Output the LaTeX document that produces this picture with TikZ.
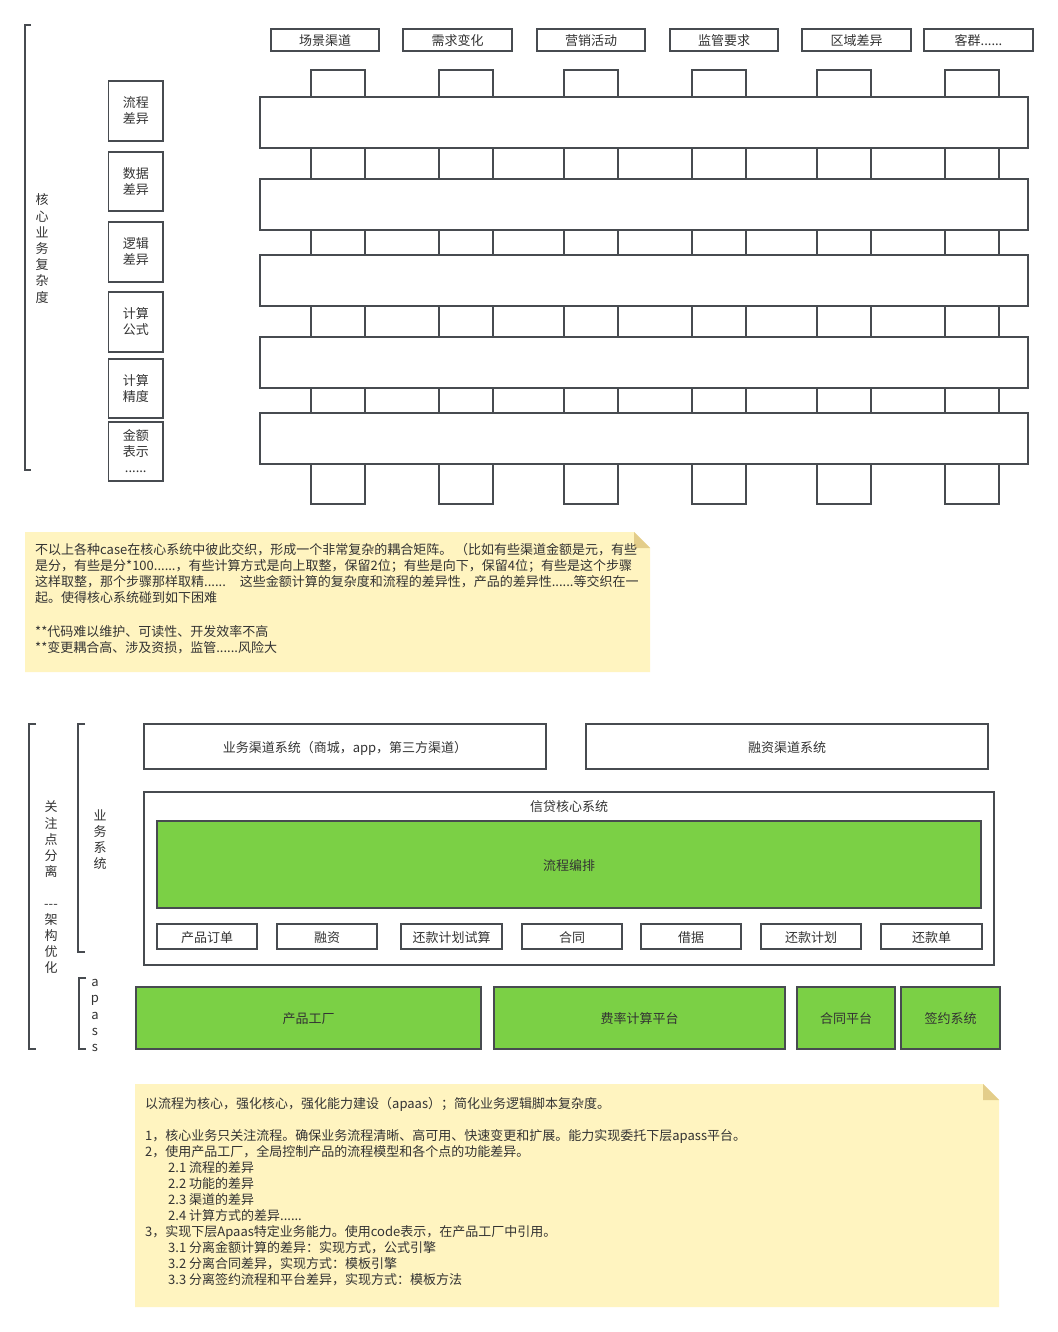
\documentclass[tikz,border=0pt]{standalone}
\usepackage{fontspec}
\setmainfont{Noto Sans CJK SC}
\definecolor{ln}{HTML}{474B50}
\definecolor{tx}{HTML}{333333}
\definecolor{gr}{HTML}{7BD045}
\definecolor{nt}{HTML}{FFF4C0}
\definecolor{fd}{HTML}{E3CD8A}
\tikzset{
  box/.style={draw=ln, line width=1.4pt, fill=white, inner sep=0pt, text=tx,
    font=\fontsize{13}{16}\selectfont, align=center},
  sbox/.style={box, text height=12.5pt, text depth=1.5pt},
  gbox/.style={sbox, fill=gr},
  lbl/.style={text=tx, inner sep=0pt, font=\fontsize{13}{16.2}\selectfont, align=center},
  nline/.style={text=tx, inner sep=0pt, font=\fontsize{13}{16}\selectfont, anchor=base west},
  brk/.style={draw=ln, line width=1.4pt},
}
% \bx[style]{name}{x1}{y1}{x2}{y2} {text};
\newcommand\bx[6][sbox]{\node[#1, minimum width={(#5-(#3))*1pt}, minimum height={(#6-(#4))*1pt}] (#2) at ({(#3+#5)/2},{(#4+#6)/2})}
\begin{document}
\begin{tikzpicture}[x=1pt,y=-1pt]
\useasboundingbox[fill=white] (0,0) rectangle (1057,1332);

% ---------- top section ----------
\draw[brk] (31,25) -- (25,25) -- (25,470) -- (31,470);
\node[lbl] (vcore) at (42,248.5) {核\\心\\业\\务\\复\\杂\\度};

% header boxes
\foreach \xa/\xb/\t [count=\i] in {271/379/场景渠道, 403/512/需求变化, 537/645/营销活动, 670/778/监管要求, 802/911/区域差异}
  \bx{h\i}{\xa}{29}{\xb}{51} {\t};
\bx{h6}{924}{29}{1033}{51} {客群......};

% left boxes
\bx[box]{d1}{108.5}{81}{163}{141} {流程\\差异};
\bx[box]{d2}{108.5}{152}{163}{211} {数据\\差异};
\bx[box]{d3}{108.5}{222}{163}{282} {逻辑\\差异};
\bx[box]{d4}{108.5}{292}{163}{352} {计算\\公式};
\bx[box]{d5}{108.5}{359}{163}{418} {计算\\精度};
\bx[box]{d6}{108.5}{422}{163}{481} {金额\\表示\\......};

% bands
\foreach \ya/\yb [count=\k] in {97/148, 179/230, 255/306, 337/388, 413/464}
  \bx{band\k}{260}{\ya}{1028}{\yb} {};

% small column boxes
\foreach \ya/\yb [count=\g] in {70/97, 148/179, 230/255, 306/337, 388/413, 464/504}
  \foreach \c [count=\i] in {311,439,564,692,817,945}
    \bx{c\g-\i}{\c}{\ya}{\c+54}{\yb} {};

% note 1
\fill[nt] (25,532) -- (634,532) -- (650,548) -- (650,672) -- (25,672) -- cycle;
\fill[fd] (634,532) -- (650,548) -- (634,548) -- cycle;
\node[nline] (n1a) at (35,554.5) {不以上各种case在核心系统中彼此交织，形成一个非常复杂的耦合矩阵。 （比如有些渠道金额是元，有些};
\node[nline] (n1b) at (35,570.5) {是分，有些是分*100......，有些计算方式是向上取整，保留2位；有些是向下，保留4位；有些是这个步骤};
\node[nline] (n1c) at (35,586.5) {这样取整，那个步骤那样取精......\hspace{14pt}这些金额计算的复杂度和流程的差异性，产品的差异性......等交织在一};
\node[nline] (n1d) at (35,602.5) {起。使得核心系统碰到如下困难};
\node[nline] (n1e) at (35,636) {**代码难以维护、可读性、开发效率不高};
\node[nline] (n1f) at (35,652) {**变更耦合高、涉及资损，监管......风险大};

% ---------- lower section ----------
\draw[brk] (36,724) -- (29,724) -- (29,1049) -- (36,1049);
\draw[brk] (85,724) -- (78,724) -- (78,952) -- (85,952);
\draw[brk] (86,978) -- (79,978) -- (79,1049) -- (86,1049);
\node[lbl, font=\fontsize{13}{16.1}\selectfont] (vsep) at (51,887.5) {关\\注\\点\\分\\离\\\mbox{}\\-{}-{}-\\架\\构\\优\\化};
\node[lbl] (vbiz) at (100,839.5) {业\\务\\系\\统};
\node[lbl, font=\fontsize{13}{16.25}\selectfont] (vapaas) at (95,1015.5) {a\\p\\a\\s\\s};

\bx{chan}{144}{724}{546}{769} {业务渠道系统（商城，app，第三方渠道）};
\bx{fin}{586}{724}{988}{769} {融资渠道系统};

\bx{core}{144}{792}{994}{965} {};
\node[lbl] (coret) at (569,806.5) {信贷核心系统};
\bx[gbox]{flow}{157}{821}{981}{908} {流程编排};
\foreach \xa/\xb/\t [count=\i] in {157/257/产品订单, 277/377/融资, 401/502/还款计划试算, 522/622/合同, 641/741/借据, 761/861/还款计划, 881/982/还款单}
  \bx{m\i}{\xa}{924}{\xb}{949} {\t};

\bx[gbox]{pf}{136}{987}{481}{1049} {产品工厂};
\bx[gbox]{rate}{494}{987}{785}{1049} {费率计算平台};
\bx[gbox]{cp}{797}{987}{895}{1049} {合同平台};
\bx[gbox]{sign}{901}{987}{1000}{1049} {签约系统};

% note 2
\fill[nt] (135,1084) -- (983,1084) -- (999,1100) -- (999,1307) -- (135,1307) -- cycle;
\fill[fd] (983,1084) -- (999,1100) -- (983,1100) -- cycle;
\node[nline] (n2a) at (145,1108) {以流程为核心，强化核心，强化能力建设（apaas）；简化业务逻辑脚本复杂度。};
\node[nline] (n2b) at (145,1140.5) {1，核心业务只关注流程。确保业务流程清晰、高可用、快速变更和扩展。能力实现委托下层apass平台。};
\node[nline] (n2c) at (145,1156.5) {2，使用产品工厂，全局控制产品的流程模型和各个点的功能差异。};
\node[nline] (n2d) at (168,1172.5) {2.1 流程的差异};
\node[nline] (n2e) at (168,1188.5) {2.2 功能的差异};
\node[nline] (n2f) at (168,1204.5) {2.3 渠道的差异};
\node[nline] (n2g) at (168,1220.5) {2.4 计算方式的差异......};
\node[nline] (n2h) at (145,1236.5) {3，实现下层Apaas特定业务能力。使用code表示，在产品工厂中引用。};
\node[nline] (n2i) at (168,1252.5) {3.1 分离金额计算的差异：实现方式，公式引擎};
\node[nline] (n2j) at (168,1268.5) {3.2 分离合同差异，实现方式：模板引擎};
\node[nline] (n2k) at (168,1284.5) {3.3 分离签约流程和平台差异，实现方式：模板方法};
\end{tikzpicture}
\end{document}
